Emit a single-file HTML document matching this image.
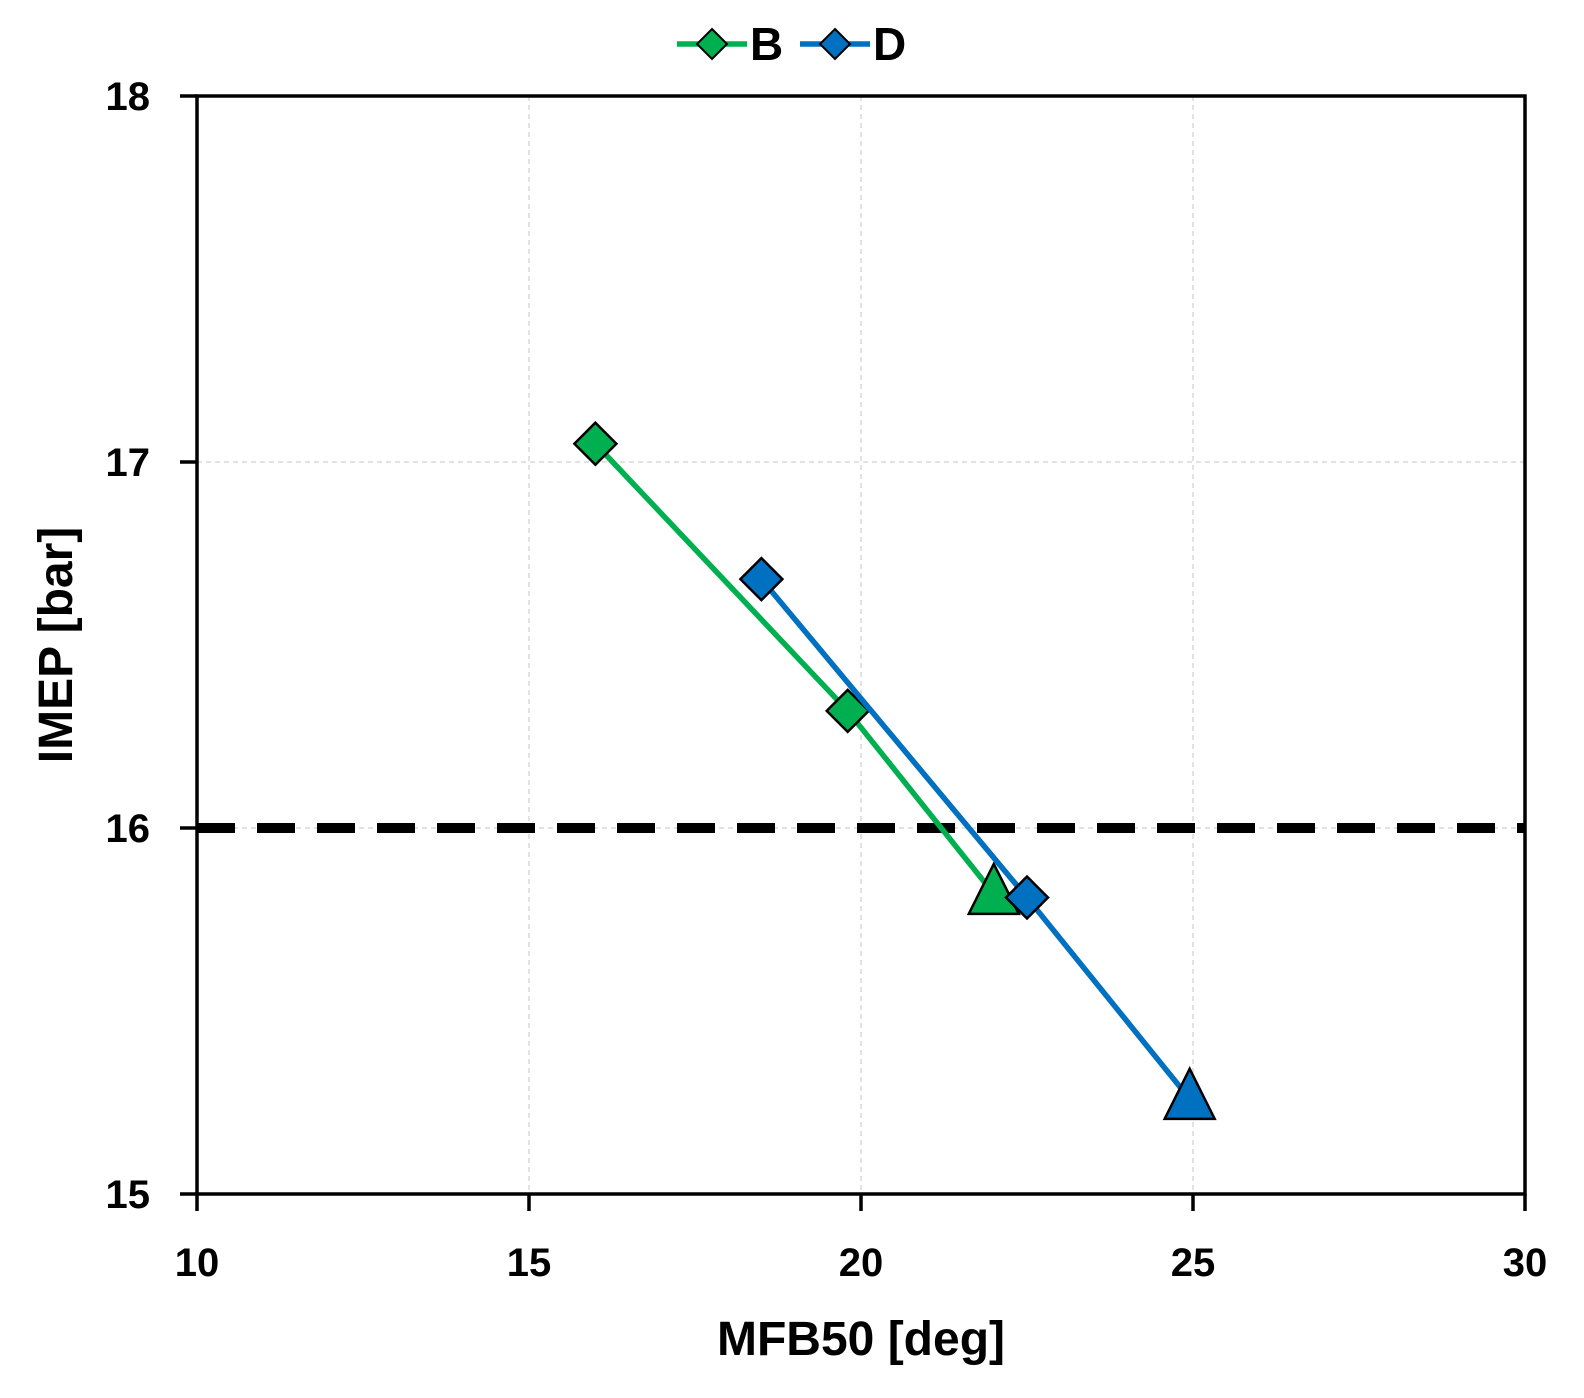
<!DOCTYPE html>
<html><head><meta charset="utf-8"><style>
html,body{margin:0;padding:0;background:#fff;}
svg{display:block;font-family:"Liberation Sans",Arial,sans-serif;font-weight:bold;}
</style></head><body>
<svg id="chart" width="1584" height="1398" viewBox="0 0 1584 1398"></svg>
<script>
const xTicks=[10,15,20,25,30];
const yTicks=[15,16,17,18];
const bX=[16.0,19.8,22.0];
const bY=[17.05,16.32,15.82];
const dX=[18.5,22.5,24.95];
const dY=[16.68,15.81,15.26];
const refY=16;
const L=197,R=1525,T=96,B=1194;
const sx=v=>L+(v-10)/(30-10)*(R-L);
const sy=v=>B-(v-15)/(18-15)*(B-T);
const svg=document.getElementById('chart');
const NS='http://www.w3.org/2000/svg';
function mk(tag,attrs,parent){const e=document.createElementNS(NS,tag);for(const k in attrs)e.setAttribute(k,attrs[k]);(parent||svg).appendChild(e);return e;}
xTicks.slice(1,-1).forEach(v=>{const g=mk('line',{x1:sx(v),x2:sx(v),y1:T,y2:B,stroke:'#d9d9d9','stroke-width':1.5,'stroke-dasharray':'5,4'});

});
yTicks.slice(1,-1).forEach(v=>{const g=mk('line',{x1:L,x2:R,y1:sy(v),y2:sy(v),stroke:'#d9d9d9','stroke-width':1.5,'stroke-dasharray':'5,4'});

});
const fr=mk('rect',{x:L,y:T,width:R-L,height:B-T,fill:'none',stroke:'#000','stroke-width':3.5});


xTicks.forEach(v=>{const t=mk('line',{x1:sx(v),x2:sx(v),y1:B,y2:B+17,stroke:'#000','stroke-width':3.5});


const l=mk('text',{x:sx(v),y:1276,'text-anchor':'middle','font-size':40});l.textContent=v;

});
yTicks.forEach(v=>{const t=mk('line',{x1:L-17,x2:L,y1:sy(v),y2:sy(v),stroke:'#000','stroke-width':3.5});


const l=mk('text',{x:150,y:sy(v)+14,'text-anchor':'end','font-size':40});l.textContent=v;

});
const rl=mk('line',{x1:L,x2:R,y1:sy(refY),y2:sy(refY),stroke:'#000','stroke-width':10,'stroke-dasharray':'38,22'});


function series(xs,ys,color,name){
  const pts=xs.map((x,i)=>sx(x)+','+sy(ys[i])).join(' ');
  const pl=mk('polyline',{points:pts,fill:'none',stroke:color,'stroke-width':5.5});
  
  
  xs.forEach((x,i)=>{
    const cx=sx(x),cy=sy(ys[i]);let m;
    if(i===xs.length-1){m=mk('polygon',{points:`${cx},${cy-30} ${cx+25},${cy+20} ${cx-25},${cy+20}`,fill:color,stroke:'#000','stroke-width':2.5});}
    else{m=mk('polygon',{points:`${cx},${cy-21} ${cx+21},${cy} ${cx},${cy+21} ${cx-21},${cy}`,fill:color,stroke:'#000','stroke-width':2.5});}
    
    
  });
}
series(bX,bY,'#00b050','series-b');
series(dX,dY,'#0070c0','series-d');
const xt=mk('text',{x:861,y:1355,'text-anchor':'middle','font-size':48});xt.textContent='MFB50 [deg]';


const yt=mk('text',{x:0,y:0,'text-anchor':'middle','font-size':48,transform:'translate(72,645) rotate(-90)'});yt.textContent='IMEP [bar]';


function legend(x,color,label){
  const g=mk('g',{});
  
  
  mk('line',{x1:x,x2:x+70,y1:44,y2:44,stroke:color,'stroke-width':5.5},g);
  mk('polygon',{points:`${x+35},${29} ${x+50},${44} ${x+35},${59} ${x+20},${44}`,fill:color,stroke:'#000','stroke-width':2},g);
  const t=mk('text',{x:x+73,y:60,'font-size':46},g);t.textContent=label;
}
legend(677,'#00b050','B');
legend(800,'#0070c0','D');
</script>
</body></html>
